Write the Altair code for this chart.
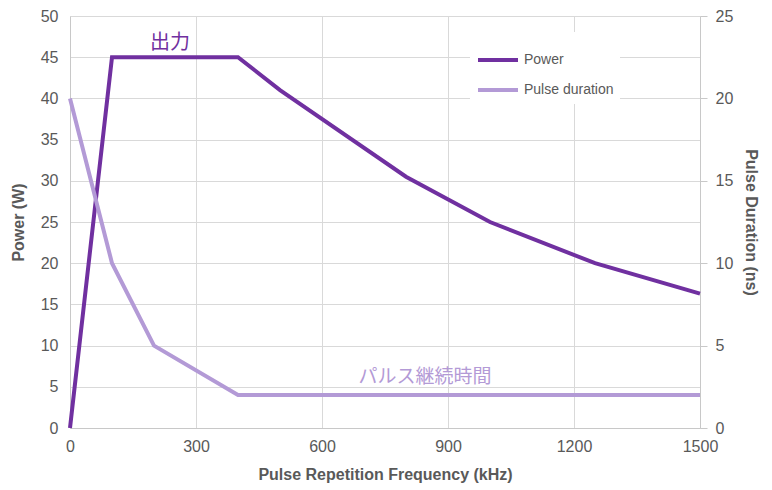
import altair as alt
import pandas as pd

freq_power = [0, 100, 400, 500, 800, 1000, 1250, 1500]
power = [0, 45, 45, 41, 30.5, 25, 20, 16.3]
freq_pulse = [0, 100, 200, 400, 1500]
pulse = [20, 10, 5, 2, 2]
series_names = ["Power", "Pulse duration"]
series_colors = ["#7030A0", "#B39AD6"]
x_ticks = [0, 300, 600, 900, 1200, 1500]
left_ticks = [0, 5, 10, 15, 20, 25, 30, 35, 40, 45, 50]
right_ticks = [0, 5, 10, 15, 20, 25]

df_p = pd.DataFrame({"f": freq_power, "v": power, "series": "Power"})
df_d = pd.DataFrame({"f": freq_pulse, "v": pulse, "series": "Pulse duration"})
ann_p = pd.DataFrame({"f": [238], "v": [46.7], "t": ["出力"]})
ann_d = pd.DataFrame({"f": [845], "v": [3.1], "t": ["パルス継続時間"]})

GRAY = "#595959"
LINE = "#c8c8c8"

xenc = alt.X("f:Q", scale=alt.Scale(domain=[0, 1500], nice=False),
             axis=alt.Axis(values=x_ticks, format="d", title="Pulse Repetition Frequency (kHz)",
                           grid=True, ticks=False, labelPadding=10, titlePadding=12,
                           labelFlush=False))

color = alt.Color("series:N", scale=alt.Scale(domain=series_names, range=series_colors),
                  legend=alt.Legend(title=None, orient="none", legendX=400, legendY=16,
                                    symbolType="stroke", symbolSize=1600, symbolStrokeWidth=4,
                                    labelFontSize=14, labelColor=GRAY, labelFont="Liberation Sans",
                                    labelOffset=4, fillColor="white", padding=6, rowPadding=-14,
                                    symbolOffset=0))

p_line = alt.Chart(df_p).mark_line(strokeWidth=4).encode(
    x=xenc,
    y=alt.Y("v:Q", scale=alt.Scale(domain=[0, 50], nice=False),
            axis=alt.Axis(values=left_ticks, title="Power (W)", grid=True, ticks=False,
                          labelPadding=12, titlePadding=14, orient="left", labelFlush=False)),
    color=color,
)
p_text = alt.Chart(ann_p).mark_text(fontSize=20, color="#7030A0", font="Noto Sans CJK JP").encode(
    x="f:Q", y="v:Q", text="t:N")

d_line = alt.Chart(df_d).mark_line(strokeWidth=4).encode(
    x=xenc,
    y=alt.Y("v:Q", scale=alt.Scale(domain=[0, 25], nice=False),
            axis=alt.Axis(values=right_ticks, title="Pulse Duration (ns)", grid=False, ticks=True,
                          tickSize=7, labelPadding=8, titlePadding=10, orient="right",
                          labelFlush=False)),
    color=color,
)
d_text = alt.Chart(ann_d).mark_text(fontSize=19, color="#B39AD6", font="Noto Sans CJK JP").encode(
    x="f:Q", y="v:Q", text="t:N")

chart = alt.layer(
    alt.layer(p_line, p_text),
    alt.layer(d_line, d_text),
).resolve_scale(y="independent").properties(
    width=630, height=412,
    autosize=alt.AutoSizeParams(type="none"),
    padding={"left": 62, "top": 8, "right": 62, "bottom": 60},
).configure_view(stroke=None).configure_axis(
    gridColor="#d9d9d9", domainColor=LINE, tickColor=LINE,
    labelColor=GRAY, labelFont="Liberation Sans", labelFontSize=16,
    titleColor=GRAY, titleFont="Liberation Sans", titleFontSize=16, titleFontWeight="bold",
)

chart.save("out.html", embed_options={"renderer": "svg", "actions": False})
